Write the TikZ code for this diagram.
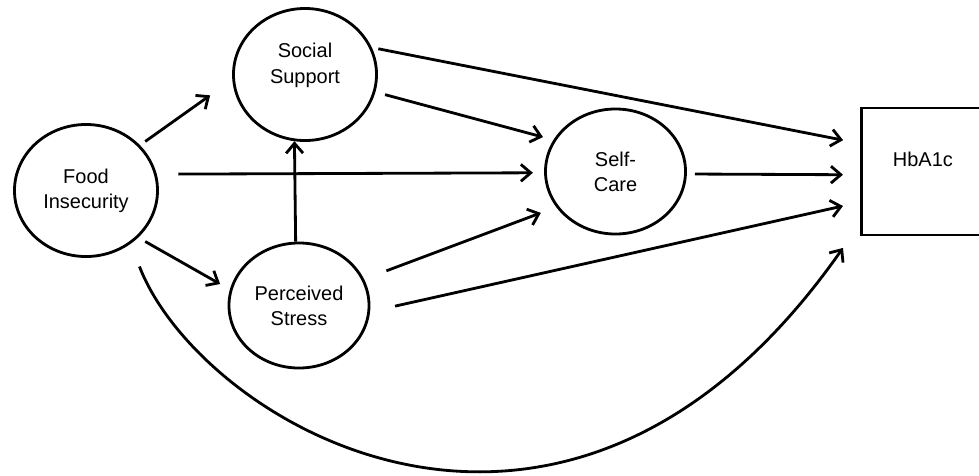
\documentclass[tikz,border=0pt]{standalone}
\usepackage{fontspec}
\setmainfont{Liberation Sans}
\usetikzlibrary{positioning}
\usetikzlibrary{shapes}
\usetikzlibrary{arrows.meta}

\begin{document}
\begin{tikzpicture}[x=0.025cm, y=-0.025cm, line width=2pt,
        font=\fontsize{14.2}{17.8}\selectfont,
        >={Straight Barb[length=7pt, width=12pt]},
        var/.style={draw, ellipse, align=center},
        bigvar/.style={var, minimum width=3.575cm, minimum height=3.3cm},
        smallvar/.style={var, minimum width=3.5cm, minimum height=3.125cm}]
        \path[use as bounding box, clip] (0,0) rectangle (979,475);
        % latent variables
        \node [bigvar] (fi) at (86,190.5) {Food\\Insecurity};
        \node [bigvar, text depth=16pt] (ss) at (305,74.5) {Social\\Support};
        \node [smallvar] (ps) at (299,305.5) {Perceived\\Stress};
        \node [smallvar] (sc) at (615.5,171.5) {Self-\\Care};
        % outcome box
        \node [draw, rectangle, minimum width=3.075cm, minimum height=3.175cm, text depth=17pt, right = 4.325cm of sc] (hb) {HbA1c};
        \coordinate (hbin) at ([shift={(-17,11.5)}]hb.south west);
        % paths from food insecurity
        \draw[->, shorten <=0.16cm, shorten >=0.68cm] (fi.40.5) -- (ss.184.8);
        \draw[->, shorten <=0.54cm, shorten >=0.28cm] (fi.13.9) -- (sc.181.2);
        \draw[->, shorten <=0.2cm, shorten >=0.28cm] (fi.-42.5) -- (ps.167);
        \draw[->, shorten <=0.61cm] (fi.-50.5) .. controls +(69,179) and +(-278,397) .. (hbin);
        % mediators
        \draw[->] (ps.93.6) -- (ss.261.5);
        \draw[->, shorten <=0.25cm, shorten >=0.27cm] (ss.-14.3) -- (sc.153);
        \draw[->, shorten <=0.595cm, shorten >=0.41cm] (ps.22.9) -- (sc.211.2);
        % paths to HbA1c
        \draw[->, shorten <=0.165cm, shorten >=0.43cm] (ss.22.7) -- (hb.156.7);
        \draw[->, shorten <=0.2cm, shorten >=0.425cm] (sc.-2.8) -- (hb.183.2);
        \draw[->, shorten <=0.64cm, shorten >=0.435cm] (ps.-5.7) -- (hb.206.7);
\end{tikzpicture}
\end{document}
